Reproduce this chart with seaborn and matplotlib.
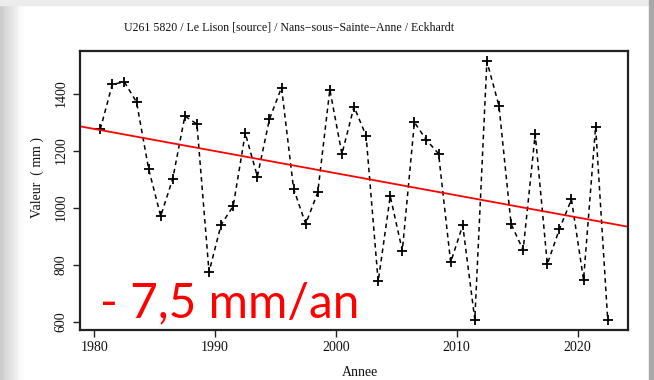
import numpy as np
import pandas as pd
import matplotlib
matplotlib.use("Agg")
import matplotlib.pyplot as plt
import seaborn as sns
from matplotlib.patches import Rectangle

# ---- data ----
years = list(range(1980, 2023))
values = [1275, 1433, 1440, 1370, 1136, 970, 1102, 1321, 1293, 774,
          940, 1005, 1261, 1109, 1310, 1421, 1066, 943, 1053, 1414,
          1188, 1354, 1252, 741, 1040, 849, 1299, 1237, 1189, 808,
          938, 607, 1513, 1357, 943, 851, 1258, 802, 924, 1029,
          747, 1284, 607]
trend_years = [1980, 2022]
trend_values = [1272, 946]
x_ticks = [1980, 1990, 2000, 2010, 2020]
y_ticks = [600, 800, 1000, 1200, 1400]
title = "U261 5820 / Le Lison [source] / Nans\u2212sous\u2212Sainte\u2212Anne / Eckhardt"
xlabel = "Annee"
ylabel = "Valeur  ( mm )"
annotation = "- 7,5 mm/an"

sns.set_theme(style="white")
plt.rcParams['font.family'] = ['Liberation Serif', 'DejaVu Serif']

W, H = 654, 380
fig = plt.figure(figsize=(W / 100, H / 100), dpi=100)
fig.patch.set_facecolor("white")

# decorative screenshot border
for i, g in enumerate(np.linspace(0.80, 0.98, 8)):
    fig.patches.append(Rectangle((i * 22 / 8 / W, 0), 22 / 8 / W, 1,
                                 transform=fig.transFigure, color=str(g), zorder=-10))
fig.patches.append(Rectangle((0, 1 - 5 / H), 1, 5 / H, transform=fig.transFigure,
                             color="#ececec", zorder=-9))
fig.patches.append(Rectangle((649 / W, 0), 5 / W, 1, transform=fig.transFigure,
                             color="#a8a8a8", zorder=-9))

ax = fig.add_axes([80 / W, 1 - 330 / H, (628 - 80) / W, (330 - 51) / H])
ax.set_facecolor("white")

df = pd.DataFrame({"x": np.array(years) + 0.5, "y": values})
sns.lineplot(data=df, x="x", y="y", ax=ax, color="black", linestyle=(0, (3, 2.5)),
             linewidth=1.1, marker="+", markersize=7.5, markeredgewidth=1.3,
             markeredgecolor="black")

tx = np.array(trend_years) + 0.5
ax.axline((tx[0], trend_values[0]), (tx[1], trend_values[1]), color="red", linewidth=1.3)

xr = (years[-1] + 0.5) - (years[0] + 0.5)
ax.set_xlim(years[0] + 0.5 - 0.04 * xr, years[-1] + 0.5 + 0.04 * xr)
yr = max(values) - min(values)
ax.set_ylim(min(values) - 0.04 * yr, max(values) + 0.04 * yr)

ax.set_xticks(x_ticks)
ax.set_yticks(y_ticks)
ax.set_yticklabels([str(v) for v in y_ticks], rotation=90, va="center")
ax.tick_params(axis="both", direction="out", length=5, width=1, color="#222222",
               labelsize=10, labelcolor="#111111", bottom=True, left=True)
ax.tick_params(axis="x", pad=3)
ax.tick_params(axis="y", pad=4)
for s in ax.spines.values():
    s.set_visible(True)
    s.set_color("#222222")
    s.set_linewidth(1.6)

ax.set_xlabel("")
ax.set_ylabel("")
fig.text(360 / W, 1 - 372 / H, xlabel, ha="center", va="center", fontsize=10, color="#111111")
fig.text(37 / W, 1 - 178 / H, ylabel, ha="center", va="center", rotation=90,
         fontsize=10, color="#111111")
fig.text(289 / W, 1 - 27 / H, title, ha="center", va="center", fontsize=8.6, color="#111111")

fig.text(100 / W, 1 - 317 / H, annotation, ha="left", va="baseline", color="#ff0000",
         fontsize=34.5, fontweight="normal", family=["Lato", "DejaVu Sans"])

fig.savefig("out.png", dpi=100)
